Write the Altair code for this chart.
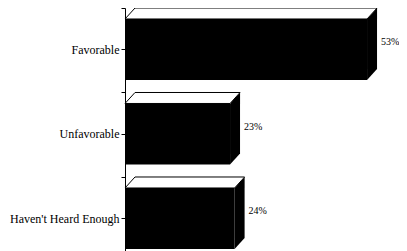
import json
import altair as alt
import pandas as pd

# ---- data ----
categories = ["Favorable", "Unfavorable", "Haven't Heard Enough"]
values = [53, 23, 24]
value_labels = ["53%", "23%", "24%"]

# ---- 3D bar geometry (style, in data units) ----
HALF = 0.361   # half height of the bar front face (category slots are 1 unit apart)
DY = 0.130     # depth, vertical
DX = 2.19      # depth, horizontal (percent units)

front_rows, right_rows, top_rows, text_rows = [], [], [], []
for i, (cat, v, lab) in enumerate(zip(categories, values, value_labels)):
    yt, yb = i - HALF, i + HALF
    front_rows.append({"cat": cat, "x0": 0, "x1": v, "yt": yt, "yb": yb})
    right_rows += [
        {"cat": cat, "x": v, "y": yt, "y2": yb},
        {"cat": cat, "x": v + DX, "y": yt - DY, "y2": yb - DY},
    ]
    top_rows += [
        {"cat": cat, "y": yt, "x": 0, "x2": v},
        {"cat": cat, "y": yt - DY, "x": DX, "x2": v + DX},
    ]
    text_rows.append({"cat": cat, "x": v + DX, "y": i, "label": lab})

front_df = pd.DataFrame(front_rows)
right_df = pd.DataFrame(right_rows)
top_df = pd.DataFrame(top_rows)
text_df = pd.DataFrame(text_rows)

label_expr = ""
for i, cat in enumerate(categories):
    label_expr += f"datum.value == {i} ? {json.dumps(cat)} : "
label_expr += "''"

tick_values = []
for i in range(len(categories)):
    tick_values += [i - HALF - DY, i]

FONT = "Liberation Serif"
yscale = alt.Scale(domain=[-HALF - DY, 2.385], reverse=True, nice=False, zero=False)
xscale = alt.Scale(domain=[0, 60], nice=False, zero=False)
yaxis = alt.Axis(
    values=tick_values, labelExpr=label_expr, title=None, grid=False,
    domainColor="black", domainWidth=1, tickColor="black", tickSize=4,
    labelFont=FONT, labelFontSize=12, labelColor="black", labelPadding=2,
    labelOverlap=False,
)

front = alt.Chart(front_df).mark_rect(color="black").encode(
    x=alt.X("x0:Q", scale=xscale, axis=None),
    x2="x1:Q",
    y=alt.Y("yt:Q", scale=yscale, axis=yaxis),
    y2="yb:Q",
)

right = alt.Chart(right_df).mark_area(orient="vertical", color="black").encode(
    x=alt.X("x:Q", scale=xscale, axis=None),
    y=alt.Y("y:Q", scale=yscale, axis=yaxis),
    y2="y2:Q",
    detail="cat:N",
)

top = alt.Chart(top_df).mark_area(
    orient="horizontal", fill="white", stroke="black", strokeWidth=1
).encode(
    y=alt.Y("y:Q", scale=yscale, axis=yaxis),
    x=alt.X("x:Q", scale=xscale, axis=None),
    x2="x2:Q",
    detail="cat:N",
)

text = alt.Chart(text_df).mark_text(
    align="left", baseline="middle", dx=4, dy=-7, font=FONT, fontSize=10, color="black"
).encode(
    x=alt.X("x:Q", scale=xscale, axis=None),
    y=alt.Y("y:Q", scale=yscale, axis=yaxis),
    text="label:N",
)

chart = alt.layer(front, right, top, text).properties(
    width=274, height=243,
    autosize=alt.AutoSizeParams(type="none"),
    padding={"left": 117, "top": 0, "right": 0, "bottom": 0},
    background="white",
).configure_view(stroke=None)

chart.save("out.html", embed_options={"renderer": "svg", "actions": False})
